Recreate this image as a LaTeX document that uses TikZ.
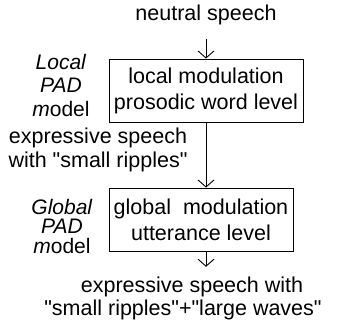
\documentclass[tikz,border=0pt]{standalone}
\usepackage{fontspec}
\setmainfont{Liberation Sans}[Ligatures=TeXOff]
\usetikzlibrary{arrows.meta}
\begin{document}
\begin{tikzpicture}[x=1pt,y=-1pt,
  txt/.style={inner sep=0pt, align=center, font=\fontsize{21.5}{25}\selectfont},
  side/.style={inner sep=0pt, align=center, font=\fontsize{21}{21}\selectfont},
  box/.style={draw, line width=0.9pt, inner sep=0pt, align=center, font=\fontsize{21.5}{26}\selectfont},
  arr/.style={line width=0.9pt, -{Straight Barb[length=7pt,width=16pt,line width=0.9pt]}}]
\useasboundingbox (0,0) rectangle (347,323);
\node[txt] (ns) at (206,15) {neutral speech};
\node[box, minimum width=194pt, minimum height=63pt] (b1) at (206,90.5) {local modulation\\prosodic word level};
\node[side, font=\fontsize{21}{23.5}\selectfont] (lpad) at (61,85) {\textit{Local}\\\textit{PAD}\\\textit{m}odel};
\node[txt, font=\fontsize{21.5}{24}\selectfont] (mid) at (98,150) {expressive speech\\with "small ripples"};
\node[box, minimum width=184pt, minimum height=63pt] (b2) at (201,219.5) {global~ modulation\\utterance level};
\node[side, font=\fontsize{21}{19.5}\selectfont] (gpad) at (62,226) {\textit{Global}\\\textit{PAD}\\\textit{m}odel};
\node[txt] (o1) at (192,287) {expressive speech with};
\node[txt] (o2) at (183,310) {"small ripples"+"large waves"};
\draw[arr, shorten <=14pt] (ns.south) -- (b1.north);
\draw[arr] (b1.south) -- (b1.south |- b2.north);
\draw[arr, shorten >=10pt] (b1.south |- b2.south) -- (b1.south |- o1.north);
\end{tikzpicture}
\end{document}
